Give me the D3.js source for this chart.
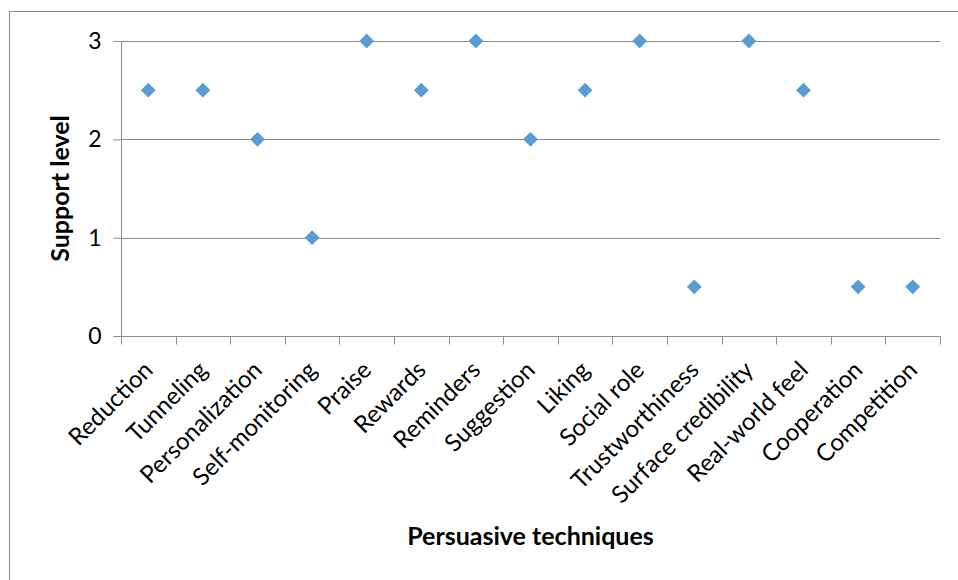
<!DOCTYPE html>
<html>
<head>
<meta charset="utf-8">
<script src="https://cdn.jsdelivr.net/npm/d3@7"></script>
<style>
  html, body { margin: 0; padding: 0; background: #fff; }
  svg { display: block; font-family: Lato, "Open Sans", sans-serif; }
</style>
</head>
<body>
<svg id="chart" width="958" height="580"></svg>
<script>
// Persuasive techniques and the support level each one receives
const techniques = [
  "Reduction", "Tunneling", "Personalization", "Self-monitoring", "Praise",
  "Rewards", "Reminders", "Suggestion", "Liking", "Social role",
  "Trustworthiness", "Surface credibility", "Real-world feel", "Cooperation", "Competition"
];
const supportLevels = [2.5, 2.5, 2, 1, 3, 2.5, 3, 2, 2.5, 3, 0.5, 3, 2.5, 0.5, 0.5];
const yTicks = [0, 1, 2, 3];
const xTitle = "Persuasive techniques";
const yTitle = "Support level";

const svg = d3.select("#chart");
const margin = { left: 121, right: 18, top: 41, bottom: 244 };
const W = 958, H = 580;
const axisColor = "#8c8c8c";

// chart frame
svg.append("rect")
  .attr("x", 9.5).attr("y", 11.5)
  .attr("width", 960).attr("height", 580)
  .attr("fill", "none").attr("stroke", axisColor).attr("stroke-width", 1);

const x = d3.scaleBand()
  .domain(techniques)
  .range([margin.left, W - margin.right])
  .paddingInner(0).paddingOuter(0);

const y = d3.scaleLinear()
  .domain([0, 3])
  .range([H - margin.bottom, margin.top]);

// horizontal gridlines
svg.append("g")
  .selectAll("line")
  .data(yTicks.filter(d => d > 0))
  .join("line")
  .attr("x1", margin.left).attr("x2", W - margin.right)
  .attr("y1", d => Math.round(y(d)) + 0.5).attr("y2", d => Math.round(y(d)) + 0.5)
  .attr("stroke", axisColor).attr("stroke-width", 1);

// y axis
const yAxis = svg.append("g")
  .attr("transform", `translate(${margin.left + 0.5},0)`)
  .call(d3.axisLeft(y).tickValues(yTicks).tickFormat(d3.format("d")).tickSize(8).tickPadding(12));
yAxis.selectAll("path").attr("stroke", axisColor).attr("d", `M0,${y(0)}V${y(3)}`);
yAxis.selectAll("line").attr("stroke", axisColor);
yAxis.selectAll("text").attr("font-size", 23).attr("fill", "#000")
  .attr("font-family", "Lato, 'Open Sans', sans-serif");

// x axis with ticks on band boundaries
const xAxisG = svg.append("g")
  .attr("transform", `translate(0,${Math.round(y(0)) + 0.5})`);
xAxisG.append("line")
  .attr("x1", margin.left).attr("x2", W - margin.right)
  .attr("stroke", axisColor);
const boundaries = techniques.map(t => x(t)).concat([x(techniques[techniques.length - 1]) + x.bandwidth()]);
xAxisG.selectAll("line.tick")
  .data(boundaries)
  .join("line")
  .attr("class", "tick")
  .attr("x1", d => Math.round(d) + 0.5).attr("x2", d => Math.round(d) + 0.5)
  .attr("y1", 0).attr("y2", 8)
  .attr("stroke", axisColor);
xAxisG.selectAll("text")
  .data(techniques)
  .join("text")
  .attr("transform", d => `translate(${x(d) + x.bandwidth() / 2},${29}) rotate(-45)`)
  .attr("text-anchor", "end")
  .attr("dy", "0.35em")
  .attr("font-size", 24)
  .attr("fill", "#000")
  .text(d => d);

// diamond markers
svg.append("g")
  .selectAll("path")
  .data(techniques.map((t, i) => ({ t, v: supportLevels[i] })))
  .join("path")
  .attr("transform", d => `translate(${x(d.t) + x.bandwidth() / 2},${y(d.v)}) rotate(45)`)
  .attr("d", d3.symbol().type(d3.symbolSquare).size(110))
  .attr("fill", "#5b9bd5");

// axis titles
svg.append("text")
  .attr("x", (margin.left + W - margin.right) / 2)
  .attr("y", 545)
  .attr("text-anchor", "middle")
  .attr("font-size", 25)
  .attr("font-weight", "bold")
  .text(xTitle);

svg.append("text")
  .attr("transform", `translate(69,${(y(0) + y(3)) / 2}) rotate(-90)`)
  .attr("text-anchor", "middle")
  .attr("font-size", 25)
  .attr("font-weight", "bold")
  .text(yTitle);
</script>
</body>
</html>
